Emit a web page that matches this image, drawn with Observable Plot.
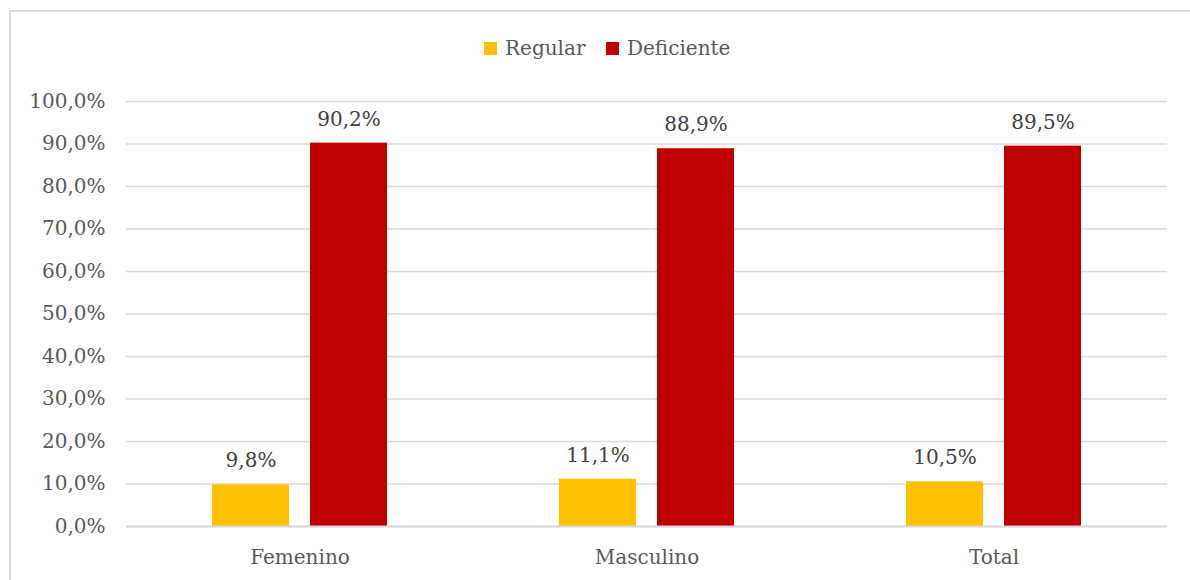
<!DOCTYPE html>
<html>
<head>
<meta charset="utf-8">
<script src="https://cdn.jsdelivr.net/npm/d3@7"></script>
<script src="https://cdn.jsdelivr.net/npm/@observablehq/plot@0.6"></script>
<style>
  html, body { margin: 0; padding: 0; background: #fff; }
  body { width: 1190px; height: 580px; position: relative; overflow: hidden; font-family: "DejaVu Serif", serif; }
  #frame { position: absolute; left: 9px; top: 10px; width: 1300px; height: 700px; border: 2px solid #d9d9d9; box-sizing: border-box; pointer-events: none; }
  #legend { position: absolute; left: 0; top: 0; width: 1190px; height: 80px; }
  .item { position: absolute; top: 38px; display: flex; align-items: center; font-size: 20px; color: #595959; height: 20px; }
  .sw { width: 13px; height: 13px; margin-right: 8px; }
  #chart { position: absolute; left: 0; top: 80px; }
</style>
</head>
<body>
<div id="legend"></div>
<div id="chart"></div>
<div id="frame"></div>
<script>
const categories = ["Femenino", "Masculino", "Total"];
const series = ["Regular", "Deficiente"];
const regular = [9.8, 11.1, 10.5];
const deficiente = [90.2, 88.9, 89.5];
const colors = ["#FFC000", "#C00000"];
const yTicks = [0, 10, 20, 30, 40, 50, 60, 70, 80, 90, 100];

const data = [];
categories.forEach((c, i) => {
  data.push({cat: c, series: "Regular", value: regular[i]});
  data.push({cat: c, series: "Deficiente", value: deficiente[i]});
});

const fmt = d => d.toFixed(1).replace(".", ",") + "%";

// Legend
const legend = document.getElementById("legend");
const legendX = [484, 606];
series.forEach((s, i) => {
  const it = document.createElement("div");
  it.className = "item";
  it.style.left = legendX[i] + "px";
  it.innerHTML = `<span class="sw" style="background:${colors[i]}"></span><span>${s}</span>`;
  legend.appendChild(it);
});

const chart = Plot.plot({
  width: 1190,
  height: 500,
  marginLeft: 125,
  marginRight: 22,
  marginTop: 21,
  marginBottom: 54,
  style: {fontFamily: "DejaVu Serif", fontSize: "20px", color: "#595959", background: "transparent", overflow: "visible"},
  fx: {domain: categories, padding: 0, label: null, axis: "bottom", tickSize: 0, tickPadding: 23},
  x: {domain: series, paddingInner: 0.212, paddingOuter: 0.862, axis: null},
  y: {domain: [0, 100], ticks: yTicks, tickFormat: fmt, tickSize: 0, tickPadding: 21, label: null},
  color: {domain: series, range: colors},
  marks: [
    Plot.ruleY(yTicks, {stroke: "#d9d9d9", strokeWidth: 1.6}),
    Plot.barY(data, {fx: "cat", x: "series", y: "value", fill: "series"}),
    Plot.ruleY([0], {stroke: "#d9d9d9", strokeWidth: 2}),
    Plot.text(data, {fx: "cat", x: "series", y: "value", text: d => fmt(d.value), dy: -24, fill: "#404040", fontSize: 20})
  ]
});
document.getElementById("chart").appendChild(chart);
</script>
</body>
</html>
